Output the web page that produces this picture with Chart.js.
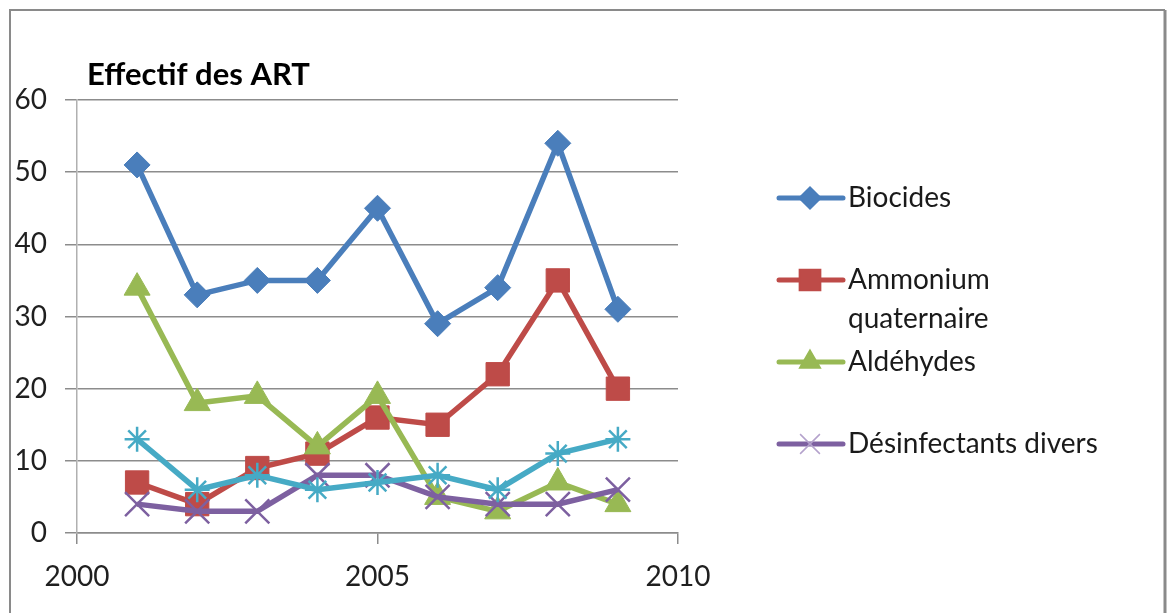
<!DOCTYPE html>
<html>
<head>
<meta charset="utf-8">
<script src="https://cdn.jsdelivr.net/npm/chart.js@4.4.1/dist/chart.umd.min.js"></script>
<style>
  html, body { margin: 0; padding: 0; background: #fff; }
  #wrap { width: 1168px; height: 613px; }
</style>
</head>
<body>
<div id="wrap"><canvas id="artChart" width="1168" height="613"></canvas></div>
<script>
// Données
const years = [2001, 2002, 2003, 2004, 2005, 2006, 2007, 2008, 2009];
const biocides = [51, 33, 35, 35, 45, 29, 34, 54, 31];
const ammonium = [7, 4, 9, 11, 16, 15, 22, 35, 20];
const aldehydes = [34, 18, 19, 12, 19, 5, 3, 7, 4];
const divers = [4, 3, 3, 8, 8, 5, 4, 4, 6];
const serie5 = [13, 6, 8, 6, 7, 8, 6, 11, 13];

const seriesNames = ["Biocides", ["Ammonium", "quaternaire"], "Aldéhydes", "Désinfectants divers", "Série 5"];
const xTicks = [2000, 2005, 2010];

const FONT = "Lato, 'Open Sans', sans-serif";

function points(values) {
  return values.map((v, i) => ({ x: years[i], y: v }));
}

const styles = [
  { color: "#4a7ebb", point: "rectRot", radius: 13, legendR: 11 },
  { color: "#be4b48", point: "rect", radius: 16.5, legendR: 15 },
  { color: "#98b954", point: "triangle", radius: 15, legendR: 12 },
  { color: "#7d60a0", point: "crossRot", radius: 17, legendR: 14 },
  { color: "#46aac5", point: "star", radius: 12.5, legendR: 11 }
];

const allValues = [biocides, ammonium, aldehydes, divers, serie5];

const datasets = allValues.map((vals, i) => ({
  label: Array.isArray(seriesNames[i]) ? seriesNames[i].join(" ") : seriesNames[i],
  data: points(vals),
  showLine: true,
  borderColor: styles[i].color,
  backgroundColor: styles[i].color,
  borderWidth: 5.5,
  pointStyle: styles[i].point,
  pointRadius: styles[i].radius,
  pointBorderWidth: i >= 3 ? 2.5 : 1,
  pointBorderColor: styles[i].color,
  pointBackgroundColor: styles[i].color,
  order: 10 - i
}));

// cadre + titre
const framePlugin = {
  id: "frame",
  beforeDraw(chart) {
    const ctx = chart.ctx;
    ctx.save();
    ctx.fillStyle = "#fff";
    ctx.fillRect(0, 0, chart.width, chart.height);
    ctx.strokeStyle = "#8a8a8a";
    ctx.lineWidth = 2;
    ctx.beginPath();
    ctx.moveTo(10, 620);
    ctx.lineTo(10, 10);
    ctx.lineTo(1165, 10);
    ctx.stroke();
    ctx.lineWidth = 3;
    ctx.beginPath();
    ctx.moveTo(1165, 10);
    ctx.lineTo(1165, 620);
    ctx.stroke();
    ctx.restore();
  },
  afterDraw(chart) {
    const ctx = chart.ctx;
    ctx.save();
    ctx.fillStyle = "#000";
    ctx.font = "bold 31px " + FONT;
    ctx.textBaseline = "middle";
    ctx.fillText("Effectif des ART", 87, 75);
    ctx.restore();
  }
};

// légende façon Excel : ligne + marqueur
const legendPlugin = {
  id: "excelLegend",
  afterDraw(chart) {
    const ctx = chart.ctx;
    ctx.save();
    ctx.font = "28px " + FONT;
    ctx.textBaseline = "middle";
    for (let i = 0; i < 4; i++) {
      const y = 198 + i * 82;
      const st = styles[i];
      ctx.strokeStyle = st.color;
      ctx.lineWidth = 5;
      ctx.lineCap = "round";
      ctx.beginPath();
      ctx.moveTo(779, y);
      ctx.lineTo(843, y);
      ctx.stroke();
      ctx.lineCap = "butt";
      ctx.fillStyle = st.color;
      ctx.lineWidth = 1.5;
      ctx.strokeStyle = i === 3 ? "#b4a2cc" : st.color;
      Chart.helpers.drawPoint(ctx, { pointStyle: st.point, radius: st.legendR, rotation: 0, borderWidth: 1.5 }, 810, y);
      ctx.fillStyle = "#1a1a1a";
      const name = seriesNames[i];
      const lines = Array.isArray(name) ? name : [name];
      lines.forEach((t, k) => ctx.fillText(t, 848, y + k * 39));
    }
    ctx.restore();
  }
};

new Chart(document.getElementById("artChart"), {
  type: "scatter",
  data: { datasets },
  plugins: [framePlugin, legendPlugin],
  options: {
    responsive: false,
    animation: false,
    layout: { padding: { left: 10, top: 100, right: 490, bottom: 0 } },
    plugins: {
      legend: { display: false },
      title: { display: false },
      tooltip: { enabled: false }
    },
    scales: {
      x: {
        type: "linear",
        min: 2000,
        max: 2010,
        afterBuildTicks(scale) {
          scale.ticks = xTicks.map(v => ({ value: v }));
        },
        afterFit(scale) { scale.height = 80; },
        grid: {
          drawOnChartArea: false,
          drawTicks: true,
          tickLength: 11,
          color: "#8c8c8c",
          lineWidth: 1.5
        },
        border: { display: true, color: "#8c8c8c", width: 1.5 },
        ticks: {
          padding: 16,
          color: "#1f1f1f",
          font: { family: FONT, size: 28 },
          maxRotation: 0,
          callback: v => String(v)
        }
      },
      y: {
        min: 0,
        max: 60,
        afterFit(scale) { scale.width = 67; },
        grid: {
          color: "#8c8c8c",
          lineWidth: 1.5,
          drawTicks: true,
          tickLength: 12
        },
        border: { display: true, color: "#b0b0b0", width: 1.5 },
        ticks: {
          stepSize: 10,
          padding: 18,
          color: "#1f1f1f",
          font: { family: FONT, size: 28 }
        }
      }
    }
  }
});
</script>
</body>
</html>
